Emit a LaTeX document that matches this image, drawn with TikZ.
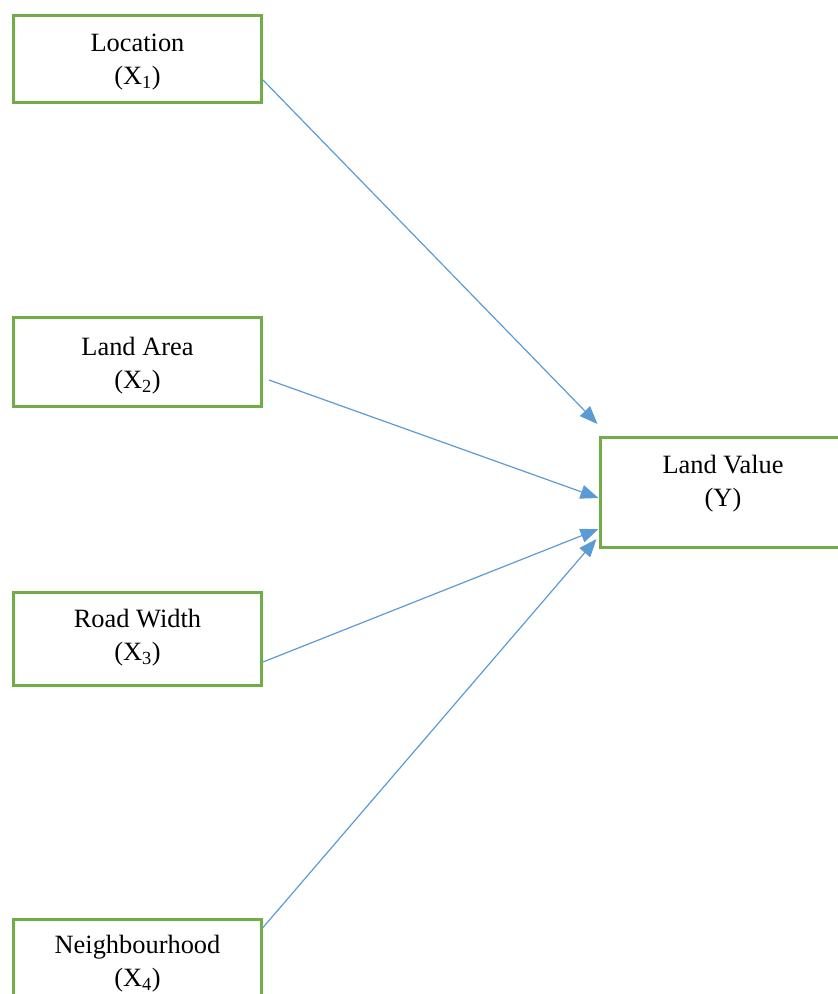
\documentclass[tikz,border=0pt]{standalone}
\usepackage{fontspec}
\setmainfont{Liberation Serif}
\usetikzlibrary{arrows.meta}
\definecolor{boxgreen}{HTML}{70AD47}
\definecolor{linkblue}{HTML}{5B9BD5}
\begin{document}
\begin{tikzpicture}[x=1pt,y=-1pt,
  varbox/.style={draw=boxgreen, line width=3pt, rectangle, inner sep=0pt, minimum width=248pt},
  lbl/.style={align=center, font=\fontsize{26.4}{33}\selectfont, inner sep=0pt, anchor=north},
  link/.style={draw=linkblue, line width=1.2pt, -{Triangle[length=18pt,width=14pt]}}]
\useasboundingbox (0,0) rectangle (838,994);

% Predictor boxes
\node[varbox, minimum height=87pt] (loc) at (137.5,58.5) {};
\node[varbox, minimum height=89pt] (area) at (137.5,362) {};
\node[varbox, minimum height=93pt] (road) at (137.5,639) {};
\node[varbox, minimum height=110pt] (nbh) at (137.5,974) {};
% Outcome box (right side runs past the page edge)
\node[draw=boxgreen, line width=3pt, rectangle, inner sep=0pt,
      minimum width=260pt, minimum height=110pt] (val) at (730,492.5) {};

% Labels
\node[lbl] (tloc) at (137.5,34) {Location\\(X\textsubscript{1})};
\node[lbl] (tarea) at (137.5,337) {Land Area\\(X\textsubscript{2})};
\node[lbl] (troad) at (137.5,609) {Road Width\\(X\textsubscript{3})};
\node[lbl] (tnbh) at (137.5,935) {Neighbourhood\\(X\textsubscript{4})};
\node[lbl] (tval) at (723,455) {Land Value\\(Y)};

% Connectors
\draw[link] ([shift={(0,21.5)}]loc.east) -- ([shift={(-1,-12)}]val.north west);
\draw[link] ([shift={(6,18)}]area.east) -- ([shift={(0,5.5)}]val.west);
\draw[link] ([shift={(0,23)}]road.east) -- ([shift={(0,36.5)}]val.west);
\draw[link] ([shift={(0,10)}]nbh.north east) -- ([shift={(-2,46.5)}]val.west);
\end{tikzpicture}
\end{document}
